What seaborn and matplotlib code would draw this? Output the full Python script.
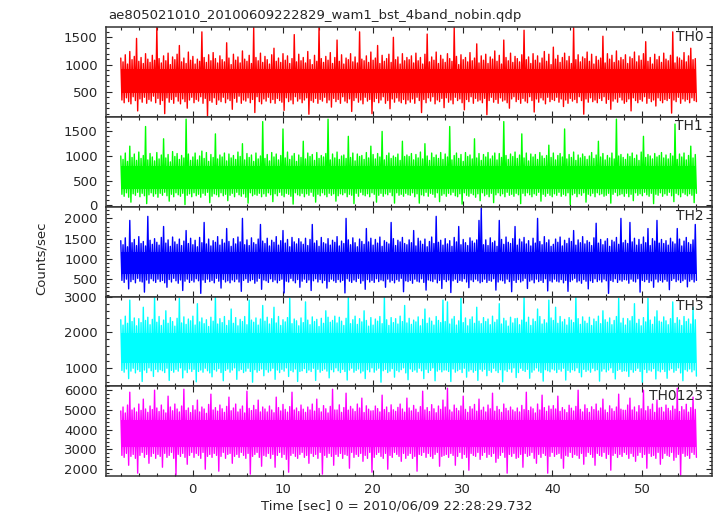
import numpy as np
import pandas as pd
import matplotlib
matplotlib.use("Agg")
import matplotlib.pyplot as plt
from matplotlib.ticker import MultipleLocator
import seaborn as sns

# light curve: upper spikes and lower dips, 256 each per band
t_start, t_end = -8.0, 56.0

th0_peaks = [1120, 1050, 1180, 1010, 1240, 1090, 1150, 1480, 1060, 1130, 1020, 1200, 1100, 1040, 1170, 1080,
             1680, 1110, 1030, 1160, 1070, 1210, 1000, 1140, 1090, 1190, 1350, 1050, 1120, 1020, 1230, 1080,
             1150, 1010, 1100, 1060, 1600, 1130, 1040, 1180, 1070, 1220, 1110, 1030, 1160, 1090, 1050, 1400,
             1120, 1000, 1190, 1080, 1140, 1030, 1250, 1100, 1060, 1170, 1020, 1680, 1130, 1070, 1210, 1040,
             1150, 1090, 1010, 1180, 1300, 1060, 1120, 1040, 1200, 1080, 1160, 1020, 1110, 1550, 1050, 1190,
             1070, 1130, 1030, 1240, 1090, 1000, 1170, 1060, 1680, 1110, 1040, 1150, 1080, 1220, 1020, 1130,
             1450, 1060, 1180, 1010, 1120, 1090, 1200, 1050, 1140, 1030, 1600, 1100, 1070, 1160, 1040, 1230,
             1080, 1120, 1350, 1020, 1170, 1060, 1110, 1190, 1040, 1500, 1090, 1140, 1010, 1200, 1070, 1130,
             1090, 1160, 1030, 1210, 1070, 1130, 1010, 1190, 1560, 1050, 1140, 1080, 1230, 1020, 1170, 1100,
             1040, 1200, 1110, 1060, 1680, 1150, 1000, 1180, 1090, 1130, 1050, 1220, 1070, 1120, 1380, 1030,
             1160, 1080, 1190, 1020, 1140, 1100, 1250, 1060, 1170, 1010, 1450, 1130, 1070, 1210, 1040, 1150,
             1110, 1050, 1180, 1630, 1090, 1140, 1020, 1200, 1080, 1160, 1030, 1120, 1240, 1060, 1190, 1000,
             1320, 1100, 1170, 1040, 1130, 1210, 1070, 1150, 1020, 1680, 1090, 1180, 1050, 1140, 1110, 1230,
             1060, 1190, 1010, 1150, 1080, 1120, 1520, 1030, 1200, 1100, 1170, 1040, 1250, 1070, 1130, 1090,
             1180, 1020, 1140, 1110, 1230, 1050, 1160, 1080, 1200, 1420, 1060, 1130, 1010, 1190, 1090, 1150,
             1040, 1210, 1100, 1070, 1170, 1600, 1030, 1140, 1120, 1080, 1220, 1050, 1160, 1300, 1090, 1110]
th0_dips = [350, 300, 390, 320, 280, 410, 340, 150, 370, 310, 400, 290, 360, 330, 420, 300,
            380, 270, 340, 100, 390, 310, 360, 290, 410, 330, 280, 370, 320, 200, 350, 400,
            300, 360, 330, 410, 290, 380, 60, 340, 310, 390, 270, 350, 320, 400, 300, 370,
            340, 180, 380, 310, 420, 290, 350, 330, 390, 300, 360, 120, 410, 320, 280, 370,
            330, 400, 300, 360, 290, 380, 340, 310, 160, 390, 320, 350, 280, 410, 330, 370,
            300, 350, 390, 90, 340, 310, 380, 290, 360, 330, 400, 300, 350, 220, 380, 320,
            360, 290, 410, 330, 300, 370, 140, 340, 390, 310, 350, 280, 400, 330, 360, 100,
            320, 380, 300, 350, 410, 290, 340, 190, 370, 310, 390, 330, 300, 360, 280, 350,
            310, 370, 290, 400, 340, 120, 360, 300, 390, 330, 410, 280, 350, 320, 380, 210,
            390, 310, 350, 280, 400, 340, 370, 300, 170, 360, 320, 410, 290, 380, 330, 350,
            300, 380, 80, 340, 400, 310, 360, 290, 390, 330, 350, 300, 200, 370, 410, 320,
            360, 290, 380, 330, 300, 410, 340, 130, 370, 310, 390, 350, 280, 400, 320, 360,
            340, 400, 310, 370, 230, 350, 290, 380, 330, 360, 300, 410, 340, 90, 370, 310,
            390, 320, 350, 300, 380, 340, 410, 290, 360, 180, 330, 370, 310, 400, 350, 290,
            320, 370, 150, 390, 340, 300, 360, 330, 410, 290, 380, 320, 350, 240, 390, 340,
            300, 360, 340, 380, 110, 350, 320, 400, 290, 370, 330, 360, 300, 390, 340, 320]

th1_peaks = [1000, 930, 1060, 890, 1200, 970, 1040, 910, 1080, 950, 1010, 1600, 920, 1050, 980, 900,
             1070, 940, 1020, 1350, 960, 1030, 880, 1090, 990, 1050, 930, 1010, 960, 1750, 1040, 910,
             980, 1060, 920, 1000, 1100, 950, 1070, 890, 1030, 970, 1450, 940, 1020, 980, 1060, 900,
             1040, 960, 1010, 930, 1080, 990, 1250, 920, 1050, 970, 1020, 890, 1060, 940, 1000, 1700,
             950, 1030, 900, 1070, 980, 1040, 920, 1010, 1550, 960, 1080, 930, 1000, 1050, 890, 1020,
             970, 1300, 940, 1060, 990, 1030, 910, 1070, 950, 1010, 980, 1050, 1750, 920, 1040, 960,
             1080, 930, 1000, 1020, 950, 1400, 970, 1060, 900, 1040, 990, 1010, 930, 1070, 960, 1200,
             1030, 940, 1050, 980, 1500, 920, 1010, 1060, 950, 1000, 970, 1040, 910, 1300, 990, 1020,
             990, 1050, 920, 1030, 960, 1080, 940, 1250, 1000, 910, 1060, 970, 1020, 950, 1070, 930,
             1040, 980, 1600, 920, 1010, 1060, 950, 1030, 890, 1070, 990, 1020, 940, 1350, 960, 1050,
             910, 1030, 980, 1070, 940, 1000, 1060, 920, 1050, 970, 1700, 1010, 930, 1040, 990, 1080,
             950, 1020, 1450, 960, 1060, 900, 1040, 980, 1030, 930, 1070, 1000, 950, 1010, 1220, 970,
             1060, 920, 1010, 1050, 980, 1550, 940, 1030, 970, 1080, 910, 1020, 960, 1040, 990, 930,
             1000, 1070, 950, 1020, 1300, 980, 1050, 920, 1010, 960, 1060, 940, 1750, 1000, 1030, 970,
             930, 1040, 990, 1060, 950, 1020, 910, 1080, 1400, 970, 1030, 1000, 940, 1050, 980, 1010,
             1070, 960, 1020, 940, 1050, 1000, 1650, 930, 1040, 980, 1060, 920, 1010, 1200, 960, 1030]
th1_dips = [220, 180, 250, 160, 60, 230, 200, 260, 170, 240, 190, 30, 210, 250, 180, 230,
            160, 240, 200, 260, 190, 80, 220, 170, 250, 210, 180, 240, 10, 200, 230, 170,
            250, 190, 220, 160, 240, 200, 260, 50, 180, 230, 210, 170, 250, 190, 220, 90,
            200, 240, 170, 260, 210, 180, 230, 160, 40, 250, 190, 220, 200, 240, 170, 230,
            180, 250, 210, 70, 230, 190, 260, 200, 170, 240, 220, 180, 20, 250, 210, 190,
            240, 170, 230, 200, 260, 180, 60, 220, 190, 250, 210, 170, 240, 200, 230, 80,
            190, 230, 210, 250, 170, 220, 200, 30, 240, 180, 260, 210, 190, 230, 170, 250,
            220, 60, 200, 240, 180, 230, 210, 260, 190, 40, 250, 200, 220, 180, 240, 210,
            200, 250, 170, 230, 40, 210, 190, 260, 180, 240, 220, 160, 250, 70, 200, 230,
            180, 240, 210, 260, 190, 170, 230, 20, 250, 200, 180, 240, 210, 160, 230, 90,
            250, 190, 220, 170, 240, 50, 210, 250, 190, 230, 170, 260, 200, 220, 180, 240,
            210, 30, 240, 190, 250, 210, 170, 230, 200, 260, 80, 220, 180, 240, 200, 170,
            230, 200, 260, 180, 220, 190, 250, 10, 210, 240, 170, 230, 200, 250, 60, 220,
            190, 240, 170, 250, 210, 230, 180, 200, 240, 40, 220, 260, 190, 210, 230, 180,
            240, 170, 220, 90, 250, 200, 230, 190, 260, 210, 180, 240, 30, 220, 200, 250,
            180, 230, 200, 260, 190, 70, 240, 210, 170, 250, 220, 190, 230, 200, 50, 240]

th2_peaks = [1450, 1350, 1520, 1300, 1950, 1400, 1480, 1330, 1550, 1380, 1430, 1320, 2050, 1460, 1360, 1500,
             1410, 1340, 1530, 1800, 1390, 1470, 1310, 1540, 1420, 1360, 1490, 1330, 1440, 1700, 1380, 1510,
             1350, 1460, 1300, 1530, 1400, 1900, 1370, 1490, 1320, 1450, 1410, 1550, 1340, 1480, 1390, 1750,
             1430, 1310, 1500, 1370, 1540, 1420, 2000, 1350, 1470, 1330, 1520, 1400, 1360, 1490, 1850, 1440,
             1380, 1510, 1320, 1460, 1410, 1550, 1340, 1450, 1700, 1390, 1480, 1300, 1530, 1420, 1370, 1500,
             1420, 1360, 1510, 1330, 1480, 1850, 1390, 1450, 1310, 1530, 1400, 1370, 1500, 1340, 1460, 1410,
             1550, 1320, 1440, 1380, 2000, 1470, 1350, 1520, 1400, 1300, 1490, 1430, 1360, 1750, 1420, 1510,
             1340, 1480, 1390, 1540, 1310, 1450, 1410, 1370, 1900, 1500, 1330, 1460, 1420, 1530, 1380, 1350,
             1470, 1400, 1700, 1320, 1510, 1440, 1360, 1490, 1300, 1430, 1540, 1380, 2050, 1410, 1460, 1340,
             1500, 1370, 1450, 1310, 1530, 1420, 1800, 1350, 1480, 1400, 1330, 1520, 1440, 1390, 1470, 1950,
             2250, 1350, 1470, 1330, 1520, 1400, 1440, 1310, 1950, 1480, 1360, 1540, 1410, 1380, 1500, 1800,
             1340, 1490, 1420, 1530, 1370, 1450, 1320, 1510, 1390, 2000, 1430, 1350, 1550, 1400, 1470, 1310,
             1360, 1490, 1410, 1540, 1320, 1460, 1380, 1510, 1430, 1700, 1340, 1470, 1400, 1550, 1370, 1450,
             1410, 1330, 1520, 1880, 1390, 1480, 1350, 1440, 1500, 1310, 1460, 1420, 1530, 1360, 2000, 1400,
             1460, 1380, 1900, 1420, 1510, 1340, 1480, 1360, 1540, 1400, 1750, 1330, 1500, 1440, 1950, 1390,
             1480, 1380, 1450, 1340, 1510, 1420, 1370, 1750, 1490, 1320, 1440, 1530, 1400, 1360, 1470, 1850]
th2_dips = [470, 420, 500, 260, 440, 490, 410, 520, 450, 430, 180, 480, 400, 510, 460, 420,
            500, 440, 470, 410, 300, 490, 430, 520, 460, 400, 480, 220, 450, 500, 420, 470,
            430, 510, 460, 150, 480, 420, 500, 440, 470, 410, 520, 450, 280, 490, 430, 460,
            410, 480, 440, 500, 430, 200, 470, 510, 420, 460, 490, 400, 450, 520, 250, 480,
            460, 420, 510, 440, 480, 410, 470, 500, 160, 450, 430, 520, 460, 410, 490, 300,
            450, 500, 420, 480, 220, 460, 510, 430, 490, 410, 470, 280, 440, 500, 460, 420,
            490, 430, 470, 160, 510, 450, 420, 480, 440, 520, 400, 460, 250, 490, 430, 470,
            420, 510, 440, 480, 460, 300, 500, 430, 470, 410, 490, 450, 520, 190, 460, 440,
            470, 400, 500, 450, 430, 510, 420, 230, 480, 460, 440, 500, 410, 470, 270, 490,
            440, 480, 170, 460, 500, 420, 470, 450, 510, 430, 290, 480, 440, 500, 460, 410,
            440, 500, 420, 470, 450, 510, 230, 430, 480, 460, 400, 500, 440, 190, 470, 420,
            490, 430, 460, 520, 270, 450, 480, 410, 500, 440, 470, 420, 510, 210, 460, 430,
            500, 450, 430, 490, 410, 470, 200, 440, 480, 520, 430, 460, 400, 490, 450, 260,
            460, 420, 510, 440, 480, 430, 500, 460, 150, 470, 440, 510, 420, 480, 450, 490,
            480, 400, 500, 450, 430, 510, 180, 470, 440, 490, 420, 460, 300, 500, 430, 470,
            430, 490, 450, 240, 470, 510, 440, 480, 420, 460, 500, 310, 450, 490, 430, 470]

th3_peaks = [2350, 2200, 2450, 2250, 2900, 2300, 2400, 2180, 2380, 2270, 2700, 2330, 2420, 2210, 2360, 3000,
             2280, 2440, 2190, 2340, 2600, 2250, 2410, 2300, 2170, 2390, 2950, 2260, 2430, 2220, 2370, 2320,
             2450, 2200, 2800, 2290, 2400, 2240, 2350, 2160, 2420, 2310, 3000, 2230, 2380, 2270, 2440, 2190,
             2330, 2650, 2250, 2410, 2180, 2360, 2300, 2440, 2210, 2900, 2340, 2280, 2400, 2200, 2370, 2750,
             2310, 2420, 2230, 2380, 2700, 2260, 2440, 2190, 2350, 2290, 2410, 2950, 2240, 2370, 2320, 2180,
             2400, 2270, 2850, 2340, 2210, 2430, 2300, 2360, 2160, 2390, 2250, 2600, 2420, 2280, 2330, 2450,
             2260, 2420, 2310, 2190, 2390, 3000, 2240, 2350, 2450, 2220, 2380, 2290, 2600, 2330, 2170, 2410,
             2200, 2370, 2310, 2440, 2240, 3000, 2350, 2190, 2410, 2270, 2380, 2230, 2450, 2300, 2750, 2260,
             2390, 2220, 2340, 2290, 2430, 2180, 2360, 2650, 2250, 2400, 2310, 2200, 2440, 2330, 2270, 2900,
             2300, 2850, 2230, 2370, 2440, 2200, 2320, 2950, 2270, 2400, 2180, 2360, 2430, 2250, 2700, 2310,
             2240, 2410, 2300, 2370, 2210, 2450, 2280, 2350, 2800, 2230, 2390, 2320, 2170, 2420, 2260, 2380,
             2390, 2210, 2340, 3000, 2280, 2420, 2190, 2370, 2300, 2650, 2440, 2230, 2350, 2260, 2900, 2400,
             2330, 2700, 2250, 2440, 2290, 2360, 2200, 2410, 2340, 2270, 3000, 2380, 2220, 2430, 2310, 2250,
             2420, 2190, 2370, 2300, 2450, 2240, 2600, 2350, 2280, 2400, 2210, 2330, 2440, 2950, 2260, 2390,
             2200, 2380, 2320, 2440, 2800, 2250, 2360, 2180, 2410, 2290, 2950, 2340, 2220, 2430, 2600, 2310,
             2280, 2430, 2320, 2210, 2380, 2850, 2250, 2410, 2340, 2190, 2440, 2300, 2370, 2230, 2700, 2350]
th3_dips = [930, 880, 970, 700, 910, 990, 860, 950, 900, 620, 940, 870, 1000, 920, 760, 960,
            890, 950, 920, 870, 990, 650, 930, 880, 960, 910, 1000, 720, 940, 870, 970, 900,
            960, 610, 900, 940, 880, 990, 920, 860, 750, 950, 910, 980, 870, 640, 930, 970,
            880, 940, 1000, 680, 920, 960, 870, 910, 990, 900, 600, 950, 880, 930, 970, 780,
            950, 880, 920, 990, 680, 940, 870, 960, 910, 1000, 760, 930, 890, 970, 620, 900,
            920, 980, 870, 940, 900, 990, 650, 960, 880, 930, 970, 910, 720, 950, 890, 1000,
            920, 870, 960, 900, 660, 940, 990, 880, 930, 970, 860, 910, 700, 950, 890, 1000,
            880, 940, 990, 600, 920, 960, 870, 910, 980, 740, 930, 890, 950, 1000, 860, 670,
            970, 900, 940, 880, 990, 920, 700, 960, 870, 930, 1000, 640, 910, 950, 890, 940,
            940, 900, 620, 970, 880, 920, 960, 870, 990, 740, 910, 950, 880, 930, 650, 960,
            910, 960, 780, 930, 880, 990, 920, 870, 950, 610, 940, 900, 970, 880, 1000, 730,
            870, 990, 930, 900, 960, 710, 880, 940, 1000, 910, 870, 630, 950, 920, 890, 970,
            940, 870, 960, 910, 990, 660, 930, 880, 950, 920, 1000, 870, 750, 960, 900, 940,
            880, 990, 920, 950, 630, 910, 970, 890, 940, 1000, 870, 690, 930, 960, 900, 920,
            910, 760, 950, 880, 930, 990, 900, 600, 960, 870, 940, 910, 980, 690, 920, 890,
            960, 900, 710, 940, 980, 880, 930, 1000, 860, 640, 950, 910, 970, 890, 940, 770]

th0123_peaks = [4950, 5150, 4850, 5250, 5900, 5000, 5100, 4900, 5300, 4980, 5550, 5050, 4880, 5200, 5020, 6000,
                5100, 4920, 5250, 5000, 4850, 5700, 5150, 4960, 5300, 5050, 4900, 5200, 6050, 4980, 5100, 4870,
                5220, 5000, 5500, 4900, 5150, 5050, 4830, 5280, 5800, 5000, 5120, 4940, 5250, 5060, 4880, 5180,
                5650, 4960, 5100, 5300, 4900, 5040, 5200, 4850, 5950, 5080, 4970, 5230, 5020, 5500, 4900, 5150,
                5050, 4900, 5200, 5000, 4860, 5650, 5120, 4950, 5280, 5030, 4890, 5170, 5900, 5000, 5100, 4920,
                5250, 5040, 4880, 5150, 5000, 5300, 4940, 5550, 5080, 4900, 5220, 5060, 4850, 5180, 6050, 5000,
                5000, 5260, 4880, 5120, 5850, 4990, 5180, 5050, 4920, 5300, 5100, 5600, 4870, 5210, 5040, 4950,
                4960, 5200, 5070, 4900, 5750, 5020, 5150, 4870, 5260, 5010, 4930, 5130, 5300, 5050, 4890, 5600,
                5100, 4950, 5230, 5040, 4880, 5170, 5950, 5000, 5120, 4920, 5270, 5060, 4860, 5200, 5030, 5500,
                5150, 6100, 5000, 4900, 5250, 5080, 4960, 5200, 5700, 5030, 4880, 5170, 5050, 5280, 4940, 5550,
                4990, 5140, 4900, 5250, 5060, 5850, 4940, 5180, 5020, 4880, 5300, 5080, 4960, 5150, 5000, 4910,
                5100, 4900, 5230, 5020, 5900, 4970, 5150, 5060, 4850, 5300, 5000, 5750, 5120, 4930, 5200, 5040,
                5220, 5050, 5700, 4930, 5120, 5010, 4870, 5240, 5090, 4950, 5180, 6000, 5030, 4900, 5260, 5070,
                4880, 5160, 5020, 5300, 4950, 5100, 5550, 5000, 4870, 5210, 5060, 4930, 5150, 5800, 5040, 4990,
                4980, 5250, 5600, 5000, 5150, 4900, 5220, 5060, 6000, 4960, 5180, 5030, 5300, 4880, 5500, 5100,
                5130, 4900, 5250, 5080, 4960, 5200, 5040, 6100, 4920, 5170, 5010, 5290, 4890, 5120, 5650, 5030]
th0123_dips = [2700, 2600, 2800, 2200, 2650, 2750, 2550, 1800, 2700, 2850, 2600, 2750, 2300, 2650, 2800, 2550,
               2750, 2650, 2100, 2800, 2600, 2700, 2850, 2550, 1700, 2750, 2650, 2800, 2600, 2250, 2700, 2850,
               2600, 2800, 2700, 2550, 2850, 2000, 2650, 2750, 2600, 2800, 2700, 1900, 2650, 2850, 2550, 2750,
               2800, 2300, 2650, 2750, 2600, 2850, 2700, 2550, 2800, 1750, 2650, 2750, 2850, 2600, 2150, 2700,
               2650, 2800, 2550, 2750, 2100, 2700, 2850, 2600, 2750, 2500, 1850, 2700, 2800, 2650, 2550, 2750,
               2850, 2600, 2700, 2300, 2800, 2650, 2750, 2550, 2850, 1750, 2700, 2600, 2800, 2650, 2200, 2750,
               2650, 2800, 2550, 2750, 2700, 2050, 2850, 2600, 2750, 2650, 2800, 2400, 2700, 2550, 2850, 1850,
               2600, 2750, 2850, 2650, 2550, 2800, 2000, 2700, 2600, 2850, 2750, 2650, 2400, 2800, 2550, 2700,
               2800, 2550, 2650, 1900, 2750, 2700, 2850, 2600, 2800, 2650, 2550, 2750, 2850, 2150, 2650, 2700,
               2750, 2600, 2800, 2700, 2200, 2650, 2850, 2550, 2750, 2600, 1950, 2800, 2700, 2650, 2850, 2500,
               2700, 2850, 2600, 2750, 2650, 2800, 2350, 2550, 2700, 2850, 2600, 1800, 2750, 2650, 2800, 2550,
               2600, 2750, 2100, 2800, 2650, 2700, 2850, 2550, 2300, 2750, 2600, 2800, 2700, 1800, 2650, 2850,
               2650, 2750, 2800, 2550, 2050, 2700, 2650, 2850, 2600, 2750, 2700, 2550, 2800, 2250, 2650, 2850,
               2750, 2600, 2200, 2800, 2700, 2650, 2850, 2550, 2750, 1950, 2700, 2800, 2600, 2750, 2650, 2850,
               2750, 2550, 2800, 2650, 2400, 2700, 2850, 2600, 2750, 2050, 2800, 2650, 2700, 2550, 2850, 2250,
               2550, 2800, 2700, 2650, 2850, 2450, 2600, 2750, 1700, 2800, 2650, 2700, 2550, 2850, 2750, 2600]

# solid middle of each band (low, high)
th0_core = (480, 920)
th1_core = (330, 800)
th2_core = (620, 1180)
th3_core = (1150, 1980)
th0123_core = (3100, 4500)

bands = ["TH0", "TH1", "TH2", "TH3", "TH0123"]
peaks = [th0_peaks, th1_peaks, th2_peaks, th3_peaks, th0123_peaks]
dips = [th0_dips, th1_dips, th2_dips, th3_dips, th0123_dips]
cores = [th0_core, th1_core, th2_core, th3_core, th0123_core]
colors = ["#ff0000", "#00ff00", "#0000ff", "#00ffff", "#ff00ff"]
ylims = [(37, 1683), (-35, 1792), (71, 2286), (485, 3000), (1655, 6200)]
yticks = [[500, 1000, 1500], [0, 500, 1000, 1500], [500, 1000, 1500, 2000],
          [1000, 2000, 3000], [2000, 3000, 4000, 5000, 6000]]
yminor = [100, 100, 100, 200, 200]

sns.set_style("ticks")
plt.rcParams["font.family"] = ["DejaVu Sans"]

fig = plt.figure(figsize=(7.17, 5.16), dpi=100)
axes = fig.subplots(5, 1, sharex=True)
fig.subplots_adjust(left=0.148, right=0.9926, top=0.947, bottom=0.0775, hspace=0)

for ax, name, pk, dp, core, col, yl, yt, ym in zip(axes, bands, peaks, dips, cores,
                                                   colors, ylims, yticks, yminor):
    vals = np.column_stack([pk, dp]).ravel()
    t = np.linspace(t_start, t_end, len(vals))
    df = pd.DataFrame({"time": t, "rate": vals})
    ax.fill_between([t_start, t_end], core[0], core[1], color=col, lw=0)
    sns.lineplot(data=df, x="time", y="rate", ax=ax, color=col, lw=1.0,
                 estimator=None, sort=False)
    ax.set_ylim(*yl)
    ax.set_yticks(yt)
    ax.yaxis.set_minor_locator(MultipleLocator(ym))
    ax.set_xlabel("")
    ax.set_ylabel("")
    ax.text(0.986, 0.975, name, transform=ax.transAxes, ha="right", va="top",
            fontsize=10)
    ax.tick_params(which="both", direction="in", top=True, right=True,
                   labelsize=9.5, pad=6)
    ax.tick_params(which="major", length=4.5, width=0.8)
    ax.tick_params(which="minor", length=2.5, width=0.8)
    ax.tick_params(axis="x", pad=5)
    for sp in ax.spines.values():
        sp.set_linewidth(1.1)
        sp.set_color("#333333")

axes[-1].set_xlim(-9.63, 57.7)
axes[-1].xaxis.set_major_locator(MultipleLocator(10))
axes[-1].xaxis.set_minor_locator(MultipleLocator(2))

fig.text(108 / 717, 0.963, "ae805021010_20100609222829_wam1_bst_4band_nobin.qdp",
         ha="left", va="baseline", fontsize=9.5)
fig.text(41 / 717, 0.5, "Counts/sec", rotation=90, ha="center", va="center",
         fontsize=9.5)
fig.text(397 / 717, 1 - 506 / 516, "Time [sec] 0 = 2010/06/09 22:28:29.732",
         ha="center", va="center", fontsize=9.5)

fig.savefig("out.png", dpi=100)
